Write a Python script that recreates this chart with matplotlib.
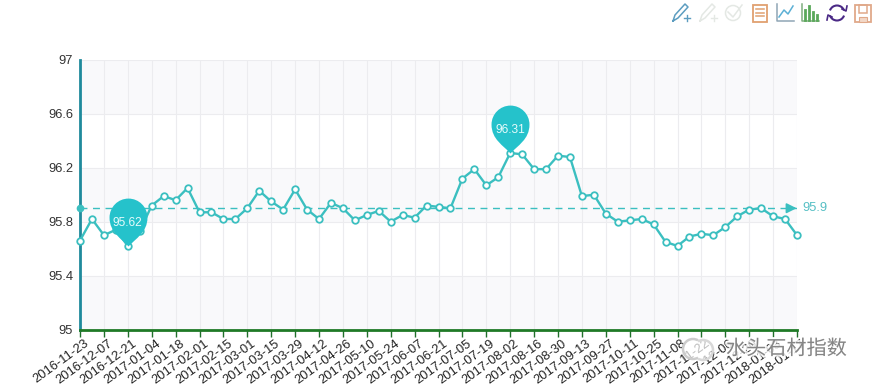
import numpy as np
import matplotlib
matplotlib.use('Agg')
import matplotlib.pyplot as plt
import matplotlib.patheffects as pe
from matplotlib.path import Path
from matplotlib.patches import Circle, Rectangle, Arc, Ellipse
from matplotlib.transforms import ScaledTranslation

plt.rcParams['font.family'] = ['Liberation Sans', 'Noto Sans CJK SC', 'DejaVu Sans']

# weekly values, 2016-11-23 to 2018-01-17
dates = np.arange(np.datetime64('2016-11-23'), np.datetime64('2018-01-18'), np.timedelta64(7, 'D'))
values = [95.66, 95.82, 95.70, 95.74, 95.62, 95.73, 95.92, 95.99, 95.96, 96.05,
          95.87, 95.87, 95.82, 95.82, 95.90, 96.03, 95.95, 95.89, 96.04, 95.89,
          95.82, 95.94, 95.90, 95.81, 95.85, 95.88, 95.80, 95.85, 95.83, 95.92,
          95.91, 95.90, 96.12, 96.19, 96.07, 96.13, 96.31, 96.30, 96.19, 96.19,
          96.29, 96.28, 95.99, 96.00, 95.86, 95.80, 95.81, 95.82, 95.78, 95.65,
          95.62, 95.69, 95.71, 95.70, 95.76, 95.84, 95.89, 95.90, 95.84, 95.82,
          95.70]
labels = [str(d) for d in dates]
y_ticks = [95, 95.4, 95.8, 96.2, 96.6, 97]
y_labels = ['95', '95.4', '95.8', '96.2', '96.6', '97']
mean_value = 95.9
min_idx = 4
max_idx = 36

TEAL = '#3bbfc0'
PIN = '#25c2cb'
W, H = 876, 388

fig = plt.figure(figsize=(W / 100, H / 100), dpi=100, facecolor='white')
ax = fig.add_axes([80 / W, (H - 329.5) / H, 717 / W, 269.5 / H])
x = np.arange(len(values))

# alternating bands and grid
for i in range(0, len(y_ticks) - 1, 2):
    ax.axhspan(y_ticks[i], y_ticks[i + 1], color='#f9f9fb', lw=0, zorder=0)
ax.set_xlim(0, len(values) - 1)
ax.set_ylim(95, 97)
ax.set_xticks(x[::2])
ax.set_xticklabels(labels[::2], rotation=36, ha='right', rotation_mode='anchor', fontsize=9.3, color='#222222')
ax.set_yticks(y_ticks)
ax.set_yticklabels(y_labels, fontsize=9.3, color='#333333')
ax.grid(True, color='#ececef', lw=0.8, zorder=1)
ax.set_axisbelow(True)
ax.tick_params(axis='x', length=5, width=1, color='#1f6f2a', pad=3)
ax.tick_params(axis='y', length=0, pad=5)
# has to come after tick_params, which resets the label transforms
shift = ScaledTranslation(4 / 100, 3 / 100, fig.dpi_scale_trans)
for t in ax.get_xticklabels():
    t.set_transform(t.get_transform() + shift)
for s in ['top', 'right']:
    ax.spines[s].set_visible(False)
ax.spines['left'].set_color('#1f8a9c')
ax.spines['left'].set_linewidth(2)
ax.spines['bottom'].set_color('#1f7a26')
ax.spines['bottom'].set_linewidth(2)

# mean line
ax.plot([0, len(values) - 1], [mean_value, mean_value], ls=(0, (5, 4)), lw=1, color=TEAL, zorder=2)
ax.plot([0], [mean_value], 'o', ms=4.5, color=TEAL, clip_on=False, zorder=3)
ax.annotate('', xy=(len(values) - 1 + 0.2, mean_value), xytext=(len(values) - 1 - 1, mean_value),
            arrowprops=dict(arrowstyle='-|>', color=TEAL, lw=1.2, mutation_scale=15), annotation_clip=False)
ax.annotate(str(mean_value), (len(values) - 1, mean_value), xytext=(4, 0), textcoords='offset points',
            fontsize=9.3, color='#55bfc4', va='center', annotation_clip=False)

# series
ax.plot(x, values, color=TEAL, lw=1.7, marker='o', ms=4.7, mfc='white', mec=TEAL, mew=1.3,
        clip_on=False, zorder=4)

# pin markers, tip at the data point
k = 0.5523
r = 19
cy = 29
pin = Path([(0, 0), (-7, 8), (-r, 14), (-r, cy),
            (-r, cy + r * k), (-r * k, cy + r), (0, cy + r),
            (r * k, cy + r), (r, cy + r * k), (r, cy),
            (r, 14), (7, 8), (0, 0)],
           [Path.MOVETO, Path.CURVE4, Path.CURVE4, Path.CURVE4,
            Path.CURVE4, Path.CURVE4, Path.CURVE4,
            Path.CURVE4, Path.CURVE4, Path.CURVE4,
            Path.CURVE4, Path.CURVE4, Path.CURVE4])
for i in [min_idx, max_idx]:
    ax.plot([x[i]], [values[i]], marker=pin, ms=69, mfc=PIN, mec='none', zorder=5)
    ax.annotate(f'{values[i]:.2f}', (x[i], values[i]), xytext=(0, 16.5), textcoords='offset points',
                ha='center', va='center', fontsize=8.6, color='#e6fbfb', zorder=6)

# toolbox and watermark, in pixel coordinates
ov = fig.add_axes([0, 0, 1, 1], zorder=10)
ov.set_xlim(0, W)
ov.set_ylim(H, 0)
ov.axis('off')
ov.patch.set_alpha(0)


def pencil(cx, color):
    ov.plot([cx - 8, cx - 6, cx + 4, cx + 7, cx - 3, cx - 8], [21, 15, 4, 7, 18, 21], color=color, lw=1.1)
    ov.plot([cx + 3, cx + 9], [18, 18], color=color, lw=1)
    ov.plot([cx + 6, cx + 6], [15, 21], color=color, lw=1)


pencil(681, '#5c9dc0')
pencil(708, '#e4e8e4')
ov.add_patch(Circle((733, 13), 7.5, fill=False, ec='#e4e8e4', lw=1.1))
ov.plot([728, 733, 742], [12, 17, 5], color='#e4e8e4', lw=1.1)
ov.add_patch(Rectangle((753, 5), 14, 17, fill=False, ec='#e0a070', lw=1.3))
for yy in [9, 12.5, 16]:
    ov.plot([756, 764], [yy, yy], color='#e0a070', lw=1.1)
ov.plot([777, 777, 794], [4, 21, 21], color='#8fa5b5', lw=1.1)
ov.plot([779, 784, 788, 793], [17, 10, 14, 6], color='#5cb0d5', lw=1.1)
ov.plot([802, 802, 819], [4, 21, 21], color='#7fae7f', lw=1.1)
for bx, bh in zip([805, 809, 813, 817], [10, 14, 8, 5]):
    ov.plot([bx, bx], [20, 20 - bh], color='#5aa85a', lw=2)
ov.add_patch(Arc((837, 13), 15, 15, theta1=200, theta2=340, ec='#4b2a86', lw=1.5))
ov.add_patch(Arc((837, 13), 15, 15, theta1=20, theta2=160, ec='#4b2a86', lw=1.5))
ov.plot([842, 846, 847], [9, 11, 6], color='#4b2a86', lw=1.2)
ov.plot([832, 828, 827], [17, 15, 20], color='#4b2a86', lw=1.2)
ov.add_patch(Rectangle((855, 5), 16, 17, fill=False, ec='#e0a98a', lw=1.3))
ov.add_patch(Rectangle((859, 5), 8, 8, fill=False, ec='#e0a98a', lw=1.1))
ov.add_patch(Rectangle((859, 17), 8, 5, fill=True, fc='#f2d8c8', ec='#e0a98a', lw=0.8))

# watermark
ov.add_patch(Ellipse((697, 349), 30, 22, fc='white', ec='none', alpha=0.7))
ov.add_patch(Arc((693, 349), 20, 20, theta1=60, theta2=300, ec='#cccccc', lw=1.8))
ov.add_patch(Arc((703, 350), 20, 20, theta1=240, theta2=120, ec='#d8d8d8', lw=1.8))
ov.text(726, 349, '水头石材指数', fontsize=14.5, color='#858585', va='center', ha='left',
        family=['Noto Sans CJK SC', 'DejaVu Sans'],
        path_effects=[pe.withStroke(linewidth=3, foreground='white', alpha=0.8)])

fig.savefig('out.png', dpi=100)
